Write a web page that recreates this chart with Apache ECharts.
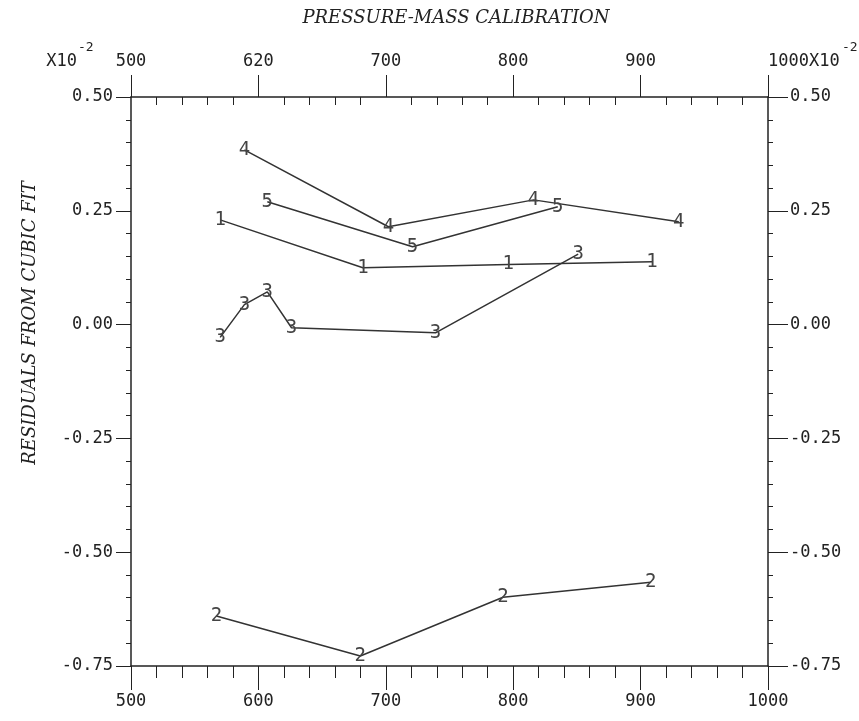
<!DOCTYPE html>
<html>
<head>
<meta charset="utf-8">
<script src="https://cdn.jsdelivr.net/npm/echarts@6/dist/echarts.min.js"></script>
<style>
  html, body { margin: 0; padding: 0; background: #fff; }
  #chart { width: 859px; height: 721px; }
</style>
</head>
<body>
<div id="chart"></div>
<script>
// values (x = pressure-mass, y = residual)
const seriesNames = ['1', '2', '3', '4', '5']
const s1x = [570, 682, 796, 909]
const s1y = [0.23, 0.125, 0.132, 0.138]
const s2x = [567, 680, 792, 908]
const s2y = [-0.64, -0.728, -0.599, -0.566]
const s3x = [570, 589, 607, 626, 739, 851]
const s3y = [-0.028, 0.044, 0.072, -0.007, -0.018, 0.155]
const s4x = [589, 702, 816, 930]
const s4y = [0.384, 0.215, 0.274, 0.226]
const s5x = [607, 721, 835]
const s5y = [0.27, 0.171, 0.259]

const xTicks = [500, 600, 700, 800, 900, 1000]
const topTickLabels = ['500', '620', '700', '800', '900', '1000X10']
const titleText = 'PRESSURE-MASS CALIBRATION'
const yName = 'RESIDUALS FROM CUBIC FIT'

const ink = '#222'
const mono = 'DejaVu Sans Mono'
const serif = 'DejaVu Serif'

const chart = echarts.init(document.getElementById('chart'))

function pairs(xs, ys) {
  return xs.map((x, i) => [x, ys[i]])
}

const allX = [s1x, s2x, s3x, s4x, s5x]
const allY = [s1y, s2y, s3y, s4y, s5y]

const xBase = {
  type: 'value',
  min: 500,
  max: 1000,
  interval: 100,
  splitLine: { show: false },
  axisLine: { onZero: false, lineStyle: { color: ink, width: 1.5 } },
  axisTick: { length: 24, lineStyle: { color: ink, width: 1 } },
  minorTick: { show: true, splitNumber: 5, length: 12, lineStyle: { color: ink, width: 1 } },
  minorSplitLine: { show: false }
}

const yBase = {
  type: 'value',
  min: -0.75,
  max: 0.5,
  interval: 0.25,
  splitLine: { show: false },
  axisLine: { show: true, onZero: false, lineStyle: { color: ink, width: 1.5 } },
  axisTick: { show: true, length: 15, lineStyle: { color: ink, width: 1 } },
  minorTick: { show: true, splitNumber: 5, length: 5, lineStyle: { color: ink, width: 1 } },
  axisLabel: {
    fontFamily: mono,
    fontSize: 17,
    color: ink,
    formatter: v => v.toFixed(2)
  }
}

function supText(text, x, y, align) {
  return {
    type: 'text',
    x,
    y,
    style: { text, fontFamily: mono, fontSize: 17, fill: ink, align, verticalAlign: 'bottom' }
  }
}

chart.setOption({
  animation: false,
  backgroundColor: '#fff',
  title: {
    text: titleText,
    left: 451,
    top: 4,
    textAlign: 'center',
    textStyle: {
      fontFamily: serif,
      fontStyle: 'italic',
      fontWeight: 'normal',
      fontSize: 18,
      color: ink
    }
  },
  grid: { left: 131, right: 91, top: 97, bottom: 55 },
  xAxis: [
    {
      ...xBase,
      position: 'bottom',
      axisLabel: { fontFamily: mono, fontSize: 17, color: ink, margin: 27, formatter: v => String(v) }
    },
    {
      ...xBase,
      position: 'top',
      axisTick: { length: 22, lineStyle: { color: ink, width: 1 } },
      minorTick: { show: true, splitNumber: 5, length: -8, lineStyle: { color: ink, width: 1 } },
      axisLabel: {
        margin: 27,
        alignMaxLabel: 'left',
        fontFamily: mono,
        fontSize: 17,
        color: ink,
        formatter: v => {
          const i = xTicks.indexOf(v)
          return i >= 0 ? topTickLabels[i] : ''
        }
      }
    }
  ],
  yAxis: [
    {
      ...yBase,
      position: 'left',
      axisLabel: { ...yBase.axisLabel, margin: 18 }
    },
    {
      ...yBase,
      position: 'right',
      axisTick: { show: true, length: 20, lineStyle: { color: ink, width: 1 } },
      axisLabel: { ...yBase.axisLabel, margin: 22 }
    }
  ],
  graphic: [
    {
      type: 'text',
      x: 30,
      y: 323,
      rotation: Math.PI / 2,
      style: {
        text: yName,
        fontFamily: serif,
        fontStyle: 'italic',
        fontSize: 18,
        fill: ink,
        align: 'center',
        verticalAlign: 'middle'
      }
    },
    // exponent marks beside the top scale
    supText('X10', 77, 70, 'right'),
    {
      type: 'text',
      x: 78,
      y: 54,
      style: { text: '-2', fontFamily: mono, fontSize: 13, fill: ink, align: 'left', verticalAlign: 'bottom' }
    },
    {
      type: 'text',
      x: 842,
      y: 54,
      style: { text: '-2', fontFamily: mono, fontSize: 13, fill: ink, align: 'left', verticalAlign: 'bottom' }
    }
  ],
  series: seriesNames.map((name, k) => ({
    name,
    type: 'line',
    xAxisIndex: 0,
    yAxisIndex: 0,
    data: pairs(allX[k], allY[k]),
    symbol: 'circle',
    symbolSize: 1,
    itemStyle: { color: 'rgba(0,0,0,0)' },
    lineStyle: { color: '#333', width: 1.5 },
    label: {
      show: true,
      position: 'inside',
      formatter: name,
      fontFamily: mono,
      fontSize: 19,
      color: '#444'
    }
  }))
})
</script>
</body>
</html>
